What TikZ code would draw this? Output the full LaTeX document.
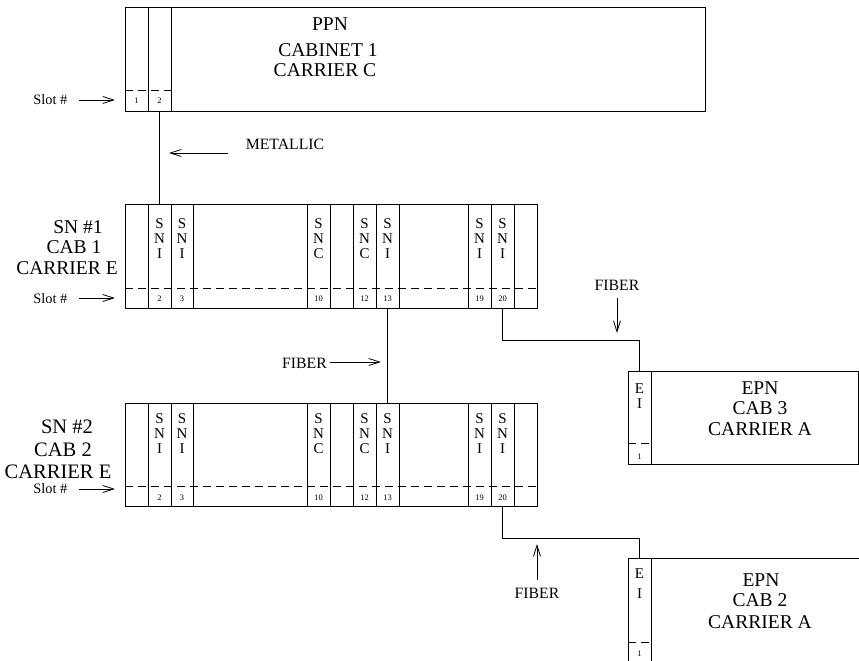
\documentclass[tikz,border=0pt]{standalone}
\usepackage{fontspec}
\setmainfont{Liberation Serif}
\usetikzlibrary{arrows.meta}
\begin{document}
\begin{tikzpicture}[x=1bp,y=-1bp,
  line width=0.9bp,
  box/.style={draw, inner sep=0pt, outer sep=0pt, anchor=north west},
  big/.style={font=\fontsize{19.6}{21}\selectfont, inner sep=0pt, anchor=base},
  bigger/.style={font=\fontsize{20.6}{22}\selectfont, inner sep=0pt, anchor=base},
  lbl/.style={font=\fontsize{15.8}{17}\selectfont, inner sep=0pt, anchor=base},
  slotlbl/.style={font=\fontsize{14.4}{16}\selectfont, inner sep=0pt, anchor=base west},
  letters/.style={font=\fontsize{15}{15}\selectfont, inner sep=0pt, anchor=north, align=center},
  wideletters/.style={font=\fontsize{15}{20}\selectfont, inner sep=0pt, anchor=north, align=center},
  num/.style={font=\fontsize{8.5}{9}\selectfont, inner sep=0pt, anchor=base},
  slotdash/.style={dash pattern=on 8bp off 5bp},
  pointer/.style={-{Straight Barb[length=11bp,width=7bp]}, line width=0.8bp},
]
\useasboundingbox (0,0) rectangle (859,661);
\clip (0,0) rectangle (859,661);

% ---------------- PPN ----------------
\node[box, minimum width=580bp, minimum height=104bp] (ppn) at (125,7) {};
\draw (148,7) -- (148,111);
\draw (171,7) -- (171,111);
\draw[slotdash] (125,90) -- (171,90);
\node[num] (ppn-n1) at (136.5,104) {1};
\node[num] (ppn-n2) at (159.5,104) {2};
\node[big] (ppn-t1) at (330,30.5) {PPN};
\node[big] (ppn-t2) at (328,56.5) {CABINET 1};
\node[big] (ppn-t3) at (325,76.5) {CARRIER C};
\node[slotlbl] (ppn-slot) at (33,104.5) {Slot \#};
\coordinate (ppn-a1) at (79,100);
\coordinate (ppn-a2) at (115,100);
\draw[pointer] (ppn-a1) -- (ppn-a2);

% ---------------- SN #1 ----------------
\node[box, minimum width=412bp, minimum height=104bp] (sn1) at (125,204) {};
\foreach \x in {148,171,193,307,330,353,376,399,468,491,514}
  \draw (\x,204) -- (\x,308);
\draw[slotdash] (125,288) -- (537,288);
\foreach \x/\t/\n in {159.5/I/2,182/I/3,318.5/C/10,364.5/C/12,387.5/I/13,479.5/I/19,502.5/I/20}{
  \node[letters] (sn1-l\n) at (\x,218) {S\\N\\\t};
  \node[num] (sn1-n\n) at (\x,301) {\n};
}
\node[big] (sn1-t1) at (78,233.5) {SN \#1};
\node[big] (sn1-t2) at (74,253.5) {CAB 1};
\node[big] (sn1-t3) at (67,274.5) {CARRIER E};
\node[slotlbl] (sn1-slot) at (33,303) {Slot \#};
\coordinate (sn1-a1) at (79,298);
\coordinate (sn1-a2) at (115,298);
\draw[pointer] (sn1-a1) -- (sn1-a2);

% ---------------- SN #2 ----------------
\node[box, minimum width=412bp, minimum height=103bp] (sn2) at (125,403) {};
\foreach \x in {148,171,193,307,330,353,376,399,468,491,514}
  \draw (\x,403) -- (\x,506);
\draw[slotdash] (125,486) -- (537,486);
\foreach \x/\t/\n in {159.5/I/2,182/I/3,318.5/C/10,364.5/C/12,387.5/I/13,479.5/I/19,502.5/I/20}{
  \node[letters] (sn2-l\n) at (\x,413) {S\\N\\\t};
  \node[num] (sn2-n\n) at (\x,500) {\n};
}
\node[bigger] (sn2-t1) at (67,433) {SN \#2};
\node[bigger] (sn2-t2) at (63,456) {CAB 2};
\node[bigger] (sn2-t3) at (58,478) {CARRIER E};
\node[slotlbl] (sn2-slot) at (33,493) {Slot \#};
\coordinate (sn2-a1) at (79,489);
\coordinate (sn2-a2) at (115,489);
\draw[pointer] (sn2-a1) -- (sn2-a2);

% ---------------- EPN CAB 3 ----------------
\node[box, minimum width=230bp, minimum height=93bp] (epn3) at (628,371) {};
\draw (651,371) -- (651,464);
\draw[slotdash] (628,443) -- (651,443);
\node[letters] (epn3-l) at (639.5,383) {E\\I};
\node[num] (epn3-n1) at (639.5,459) {1};
\node[big] (epn3-t1) at (760,394.5) {EPN};
\node[big] (epn3-t2) at (760,414.5) {CAB 3};
\node[big] (epn3-t3) at (760,435.5) {CARRIER A};

% ---------------- EPN CAB 2 ----------------
\node[box, minimum width=260bp, minimum height=130bp] (epn2) at (628,558) {};
\draw (651,558) -- (651,690);
\draw[slotdash] (628,642) -- (651,642);
\node[wideletters] (epn2-l) at (639.5,568) {E\\I};
\node[num] (epn2-n1) at (639.5,656) {1};
\node[big] (epn2-t1) at (761,586.5) {EPN};
\node[big] (epn2-t2) at (760,606.5) {CAB 2};
\node[big] (epn2-t3) at (760,628.5) {CARRIER A};

% ---------------- connectors ----------------
\draw ([xshift=34.5bp]ppn.south west) -- ([xshift=34.5bp]sn1.north west);
\draw ([xshift=262.5bp]sn1.south west) -- ([xshift=262.5bp]sn2.north west);
\draw ([xshift=377.5bp]sn1.south west) -- ++(0,32) -| ([xshift=11.5bp]epn3.north west);
\draw ([xshift=377.5bp]sn2.south west) -- ++(0,32) -| ([xshift=11.5bp]epn2.north west);

% ---------------- link labels ----------------
\node[lbl] (metal) at (285,150) {METALLIC};
\coordinate (metal-a1) at (228,153);
\coordinate (metal-a2) at (169,153);
\draw[pointer] (metal-a1) -- (metal-a2);

\node[lbl] (fib1) at (304.5,368) {FIBER};
\coordinate (fib1-a1) at (330,362);
\coordinate (fib1-a2) at (381,362);
\draw[pointer] (fib1-a1) -- (fib1-a2);

\node[lbl] (fib2) at (617,290) {FIBER};
\coordinate (fib2-a1) at (617,298);
\coordinate (fib2-a2) at (617,333);
\draw[pointer] (fib2-a1) -- (fib2-a2);

\node[lbl] (fib3) at (537,598) {FIBER};
\coordinate (fib3-a1) at (537,580);
\coordinate (fib3-a2) at (537,544);
\draw[pointer] (fib3-a1) -- (fib3-a2);
\end{tikzpicture}
\end{document}
